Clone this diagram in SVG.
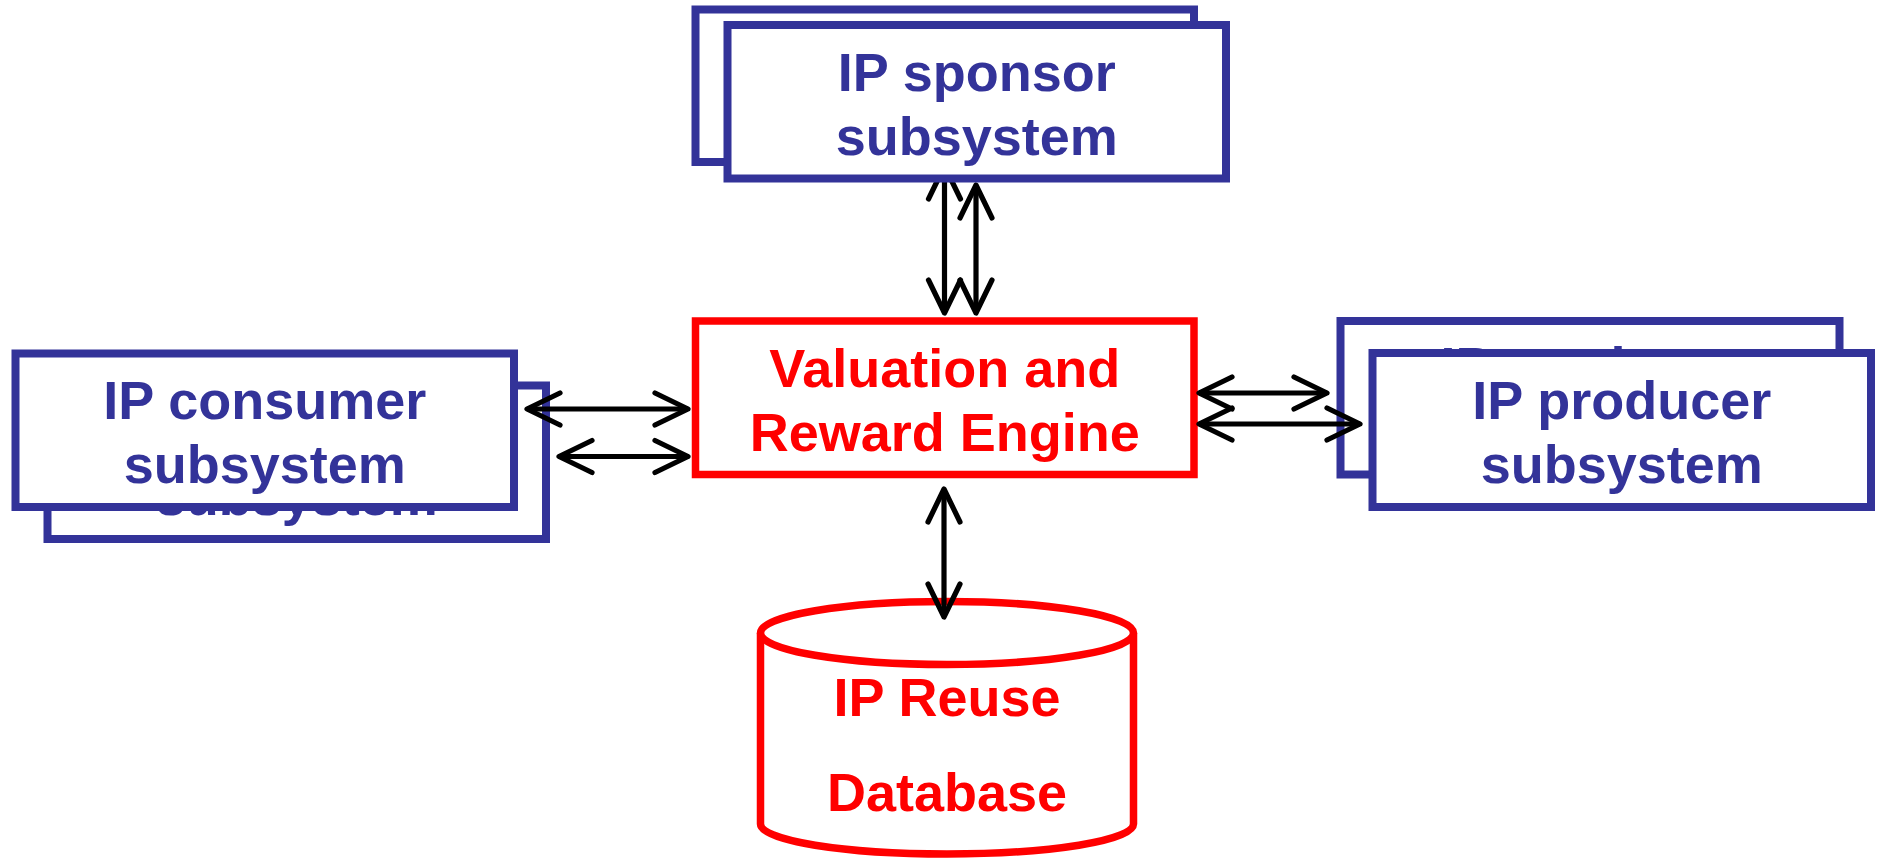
<svg xmlns="http://www.w3.org/2000/svg" width="1881" height="859" viewBox="0 0 1881 859">
  <style>
    .sub { fill: #FFFFFF; stroke: #333399; stroke-width: 8; }
    .core { fill: #FFFFFF; stroke: #FF0000; stroke-width: 7.5; }
    .bt { font-family: "Liberation Sans", Arial, sans-serif; font-weight: bold; font-size: 54px; fill: #333399; text-anchor: middle; }
    .rt { font-family: "Liberation Sans", Arial, sans-serif; font-weight: bold; font-size: 54px; fill: #FF0000; text-anchor: middle; }
    .conn { stroke: #000000; stroke-width: 5.2; fill: none; marker-start: url(#head); marker-end: url(#head); }
  </style>
  <defs>
    <marker id="head" markerUnits="userSpaceOnUse" orient="auto-start-reverse" markerWidth="50" markerHeight="50" viewBox="-40 -25 50 50" refX="0" refY="0" overflow="visible">
      <path d="M-33,-16 L0,0 L-33,16" fill="none" stroke="#000000" stroke-width="5.2" stroke-linecap="round" stroke-linejoin="round"/>
    </marker>
  </defs>
  <rect width="1881" height="859" fill="#FFFFFF"/>

  <g id="consumer">
    <rect class="sub" x="47.5" y="385.5" width="498.5" height="153.5"/>
    <text class="bt" x="296.75" y="515">subsystem</text>
    <rect class="sub" x="15.5" y="353.5" width="498.5" height="153.5"/>
    <text class="bt" x="264.75" y="419">IP consumer</text>
    <text class="bt" x="264.75" y="483">subsystem</text>
  </g>

  <g id="producer">
    <rect class="sub" x="1340.5" y="321" width="499" height="153.5"/>
    <text class="bt" x="1590" y="385">IP producer</text>
    <rect class="sub" x="1372.5" y="353" width="498.5" height="154"/>
    <text class="bt" x="1621.75" y="419">IP producer</text>
    <text class="bt" x="1621.75" y="483">subsystem</text>
  </g>

  <g id="engine">
    <rect class="core" x="695.5" y="321" width="498.5" height="153.5"/>
    <text class="rt" x="944.75" y="387">Valuation and</text>
    <text class="rt" x="944.75" y="451">Reward Engine</text>
  </g>

  <g id="database">
    <path class="core" d="M760.5,633 L760.5,824 A186.5,30 0 0 0 1133.5,824 L1133.5,633"/>
    <ellipse class="core" cx="947" cy="633" rx="186.5" ry="31.5"/>
    <text class="rt" x="947" y="716">IP Reuse</text>
    <text class="rt" x="947" y="811">Database</text>
  </g>

  <g id="connectors">
    <line class="conn" x1="944.5" y1="166" x2="944.5" y2="313"/>
    <line class="conn" x1="976" y1="185" x2="976" y2="313"/>
    <line class="conn" x1="527" y1="409" x2="688" y2="409"/>
    <line class="conn" x1="559" y1="456.5" x2="688" y2="456.5"/>
    <line class="conn" x1="1199" y1="393" x2="1327" y2="393"/>
    <line class="conn" x1="1199" y1="424" x2="1360" y2="424"/>
    <line class="conn" x1="944" y1="489" x2="944" y2="617"/>
  </g>

  <g id="sponsor">
    <rect class="sub" x="695.5" y="9.5" width="498.5" height="152.5"/>
    <rect class="sub" x="727.5" y="25" width="498.5" height="153.5"/>
    <text class="bt" x="976.75" y="91">IP sponsor</text>
    <text class="bt" x="976.75" y="155">subsystem</text>
  </g>
</svg>
